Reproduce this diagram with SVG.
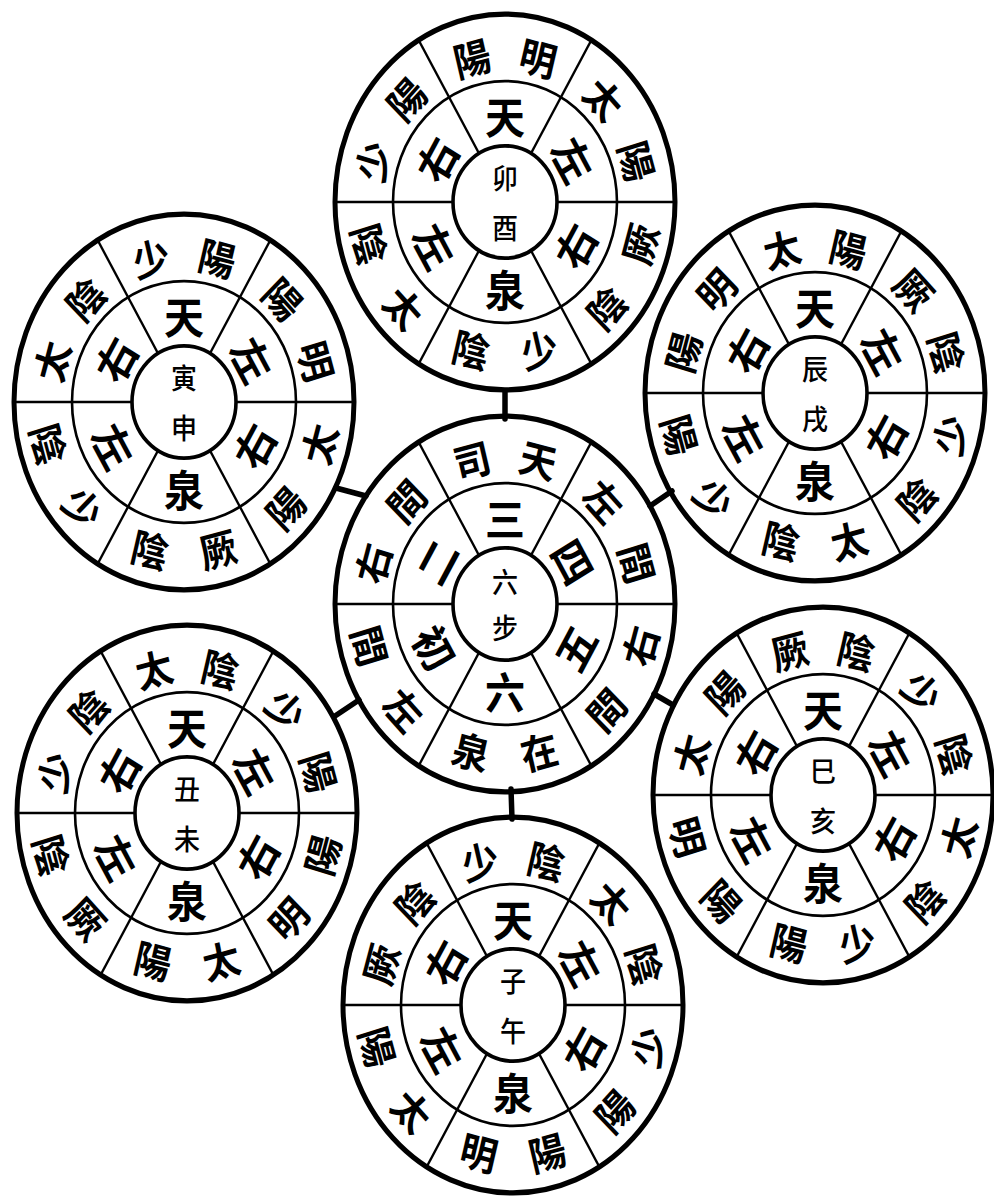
<svg xmlns="http://www.w3.org/2000/svg" xmlns:xlink="http://www.w3.org/1999/xlink" width="994" height="1199" viewBox="0 0 994 1199">
<style>
.o{fill:none;stroke:#000;stroke-width:5}
.m{fill:none;stroke:#000;stroke-width:2.6}
.i{fill:none;stroke:#000;stroke-width:3.6}
.d{stroke:#000;stroke-width:2.3}
.c{stroke:#000;stroke-width:5.5;stroke-linecap:round}
text{font-family:"Noto Sans CJK TC","Noto Sans CJK SC",sans-serif;text-anchor:middle;dominant-baseline:central;fill:#000}
.t{font-size:37px;font-weight:700}
.tm{font-size:40px;font-weight:700}
.ti{font-size:26px;font-weight:500}
</style>
<defs>
<g id="frame">
<ellipse class="o" cx="0" cy="0" rx="170" ry="174"/>
<circle class="m" cx="0" cy="0" r="112"/>
<circle class="i" cx="0" cy="0" r="52"/>
<line class="d" x1="26" y1="-45" x2="87" y2="-151"/>
<line class="d" x1="26" y1="45" x2="87" y2="151"/>
<line class="d" x1="-26" y1="45" x2="-87" y2="151"/>
<line class="d" x1="-26" y1="-45" x2="-87" y2="-151"/>
<line class="d" x1="52" y1="0" x2="171" y2="0"/>
<line class="d" x1="-52" y1="0" x2="-171" y2="0"/>
</g>
</defs>
<rect width="994" height="1199" fill="#fff"/>

<g id="connectors">
<line class="c" x1="505" y1="392" x2="505" y2="419"/>
<line class="c" x1="511" y1="789" x2="512" y2="819"/>
<line class="c" x1="336" y1="488" x2="366" y2="496"/>
<line class="c" x1="650" y1="506" x2="672" y2="491"/>
<line class="c" x1="335" y1="716" x2="359" y2="700"/>
<line class="c" x1="654" y1="694" x2="673" y2="705"/>
</g>

<g id="wheel-center" transform="translate(505,604) scale(1,1.08)">
<use xlink:href="#frame"/>
<text class="t" transform="rotate(-14) translate(0,-139)">司</text>
<text class="t" transform="rotate(14) translate(0,-139)">天</text>
<text class="t" transform="rotate(46) translate(0,-139)">左</text>
<text class="t" transform="rotate(74) translate(0,-139)">間</text>
<text class="t" transform="rotate(-74) translate(0,139)">右</text>
<text class="t" transform="rotate(-46) translate(0,139)">間</text>
<text class="t" transform="rotate(-14) translate(0,139)">在</text>
<text class="t" transform="rotate(14) translate(0,139)">泉</text>
<text class="t" transform="rotate(46) translate(0,139)">左</text>
<text class="t" transform="rotate(74) translate(0,139)">間</text>
<text class="t" transform="rotate(-74) translate(0,-139)">右</text>
<text class="t" transform="rotate(-46) translate(0,-139)">間</text>
<text class="tm" transform="translate(0,-80)">三</text>
<text class="tm" transform="rotate(60) translate(0,-80)">四</text>
<text class="tm" transform="rotate(-60) translate(0,80)">五</text>
<text class="tm" transform="translate(0,80)">六</text>
<text class="tm" transform="rotate(60) translate(0,80)">初</text>
<text class="tm" transform="rotate(-60) translate(0,-80)">二</text>
<text class="ti" x="0" y="-21">六</text>
<text class="ti" x="0" y="21">步</text>
</g>

<g id="wheel-maoyou" transform="translate(505,202) scale(1,1.08)">
<use xlink:href="#frame"/>
<text class="t" transform="rotate(-14) translate(0,-139)">陽</text>
<text class="t" transform="rotate(14) translate(0,-139)">明</text>
<text class="t" transform="rotate(46) translate(0,-139)">太</text>
<text class="t" transform="rotate(74) translate(0,-139)">陽</text>
<text class="t" transform="rotate(-74) translate(0,139)">厥</text>
<text class="t" transform="rotate(-46) translate(0,139)">陰</text>
<text class="t" transform="rotate(-14) translate(0,139)">少</text>
<text class="t" transform="rotate(14) translate(0,139)">陰</text>
<text class="t" transform="rotate(46) translate(0,139)">太</text>
<text class="t" transform="rotate(74) translate(0,139)">陰</text>
<text class="t" transform="rotate(-74) translate(0,-139)">少</text>
<text class="t" transform="rotate(-46) translate(0,-139)">陽</text>
<text class="tm" transform="translate(0,-80)">天</text>
<text class="tm" transform="rotate(60) translate(0,-80)">左</text>
<text class="tm" transform="rotate(-60) translate(0,80)">右</text>
<text class="tm" transform="translate(0,80)">泉</text>
<text class="tm" transform="rotate(60) translate(0,80)">左</text>
<text class="tm" transform="rotate(-60) translate(0,-80)">右</text>
<text class="ti" x="0" y="-23">卯</text>
<text class="ti" x="0" y="23">酉</text>
</g>

<g id="wheel-yinshen" transform="translate(184,402) scale(1,1.08)">
<use xlink:href="#frame"/>
<text class="t" transform="rotate(-14) translate(0,-139)">少</text>
<text class="t" transform="rotate(14) translate(0,-139)">陽</text>
<text class="t" transform="rotate(46) translate(0,-139)">陽</text>
<text class="t" transform="rotate(74) translate(0,-139)">明</text>
<text class="t" transform="rotate(-74) translate(0,139)">太</text>
<text class="t" transform="rotate(-46) translate(0,139)">陽</text>
<text class="t" transform="rotate(-14) translate(0,139)">厥</text>
<text class="t" transform="rotate(14) translate(0,139)">陰</text>
<text class="t" transform="rotate(46) translate(0,139)">少</text>
<text class="t" transform="rotate(74) translate(0,139)">陰</text>
<text class="t" transform="rotate(-74) translate(0,-139)">太</text>
<text class="t" transform="rotate(-46) translate(0,-139)">陰</text>
<text class="tm" transform="translate(0,-80)">天</text>
<text class="tm" transform="rotate(60) translate(0,-80)">左</text>
<text class="tm" transform="rotate(-60) translate(0,80)">右</text>
<text class="tm" transform="translate(0,80)">泉</text>
<text class="tm" transform="rotate(60) translate(0,80)">左</text>
<text class="tm" transform="rotate(-60) translate(0,-80)">右</text>
<text class="ti" x="0" y="-23">寅</text>
<text class="ti" x="0" y="23">申</text>
</g>

<g id="wheel-chenxu" transform="translate(815,393) scale(1,1.08)">
<use xlink:href="#frame"/>
<text class="t" transform="rotate(-14) translate(0,-139)">太</text>
<text class="t" transform="rotate(14) translate(0,-139)">陽</text>
<text class="t" transform="rotate(46) translate(0,-139)">厥</text>
<text class="t" transform="rotate(74) translate(0,-139)">陰</text>
<text class="t" transform="rotate(-74) translate(0,139)">少</text>
<text class="t" transform="rotate(-46) translate(0,139)">陰</text>
<text class="t" transform="rotate(-14) translate(0,139)">太</text>
<text class="t" transform="rotate(14) translate(0,139)">陰</text>
<text class="t" transform="rotate(46) translate(0,139)">少</text>
<text class="t" transform="rotate(74) translate(0,139)">陽</text>
<text class="t" transform="rotate(-74) translate(0,-139)">陽</text>
<text class="t" transform="rotate(-46) translate(0,-139)">明</text>
<text class="tm" transform="translate(0,-80)">天</text>
<text class="tm" transform="rotate(60) translate(0,-80)">左</text>
<text class="tm" transform="rotate(-60) translate(0,80)">右</text>
<text class="tm" transform="translate(0,80)">泉</text>
<text class="tm" transform="rotate(60) translate(0,80)">左</text>
<text class="tm" transform="rotate(-60) translate(0,-80)">右</text>
<text class="ti" x="0" y="-23">辰</text>
<text class="ti" x="0" y="23">戌</text>
</g>

<g id="wheel-chouwei" transform="translate(187,813) scale(1,1.08)">
<use xlink:href="#frame"/>
<text class="t" transform="rotate(-14) translate(0,-139)">太</text>
<text class="t" transform="rotate(14) translate(0,-139)">陰</text>
<text class="t" transform="rotate(46) translate(0,-139)">少</text>
<text class="t" transform="rotate(74) translate(0,-139)">陽</text>
<text class="t" transform="rotate(-74) translate(0,139)">陽</text>
<text class="t" transform="rotate(-46) translate(0,139)">明</text>
<text class="t" transform="rotate(-14) translate(0,139)">太</text>
<text class="t" transform="rotate(14) translate(0,139)">陽</text>
<text class="t" transform="rotate(46) translate(0,139)">厥</text>
<text class="t" transform="rotate(74) translate(0,139)">陰</text>
<text class="t" transform="rotate(-74) translate(0,-139)">少</text>
<text class="t" transform="rotate(-46) translate(0,-139)">陰</text>
<text class="tm" transform="translate(0,-80)">天</text>
<text class="tm" transform="rotate(60) translate(0,-80)">左</text>
<text class="tm" transform="rotate(-60) translate(0,80)">右</text>
<text class="tm" transform="translate(0,80)">泉</text>
<text class="tm" transform="rotate(60) translate(0,80)">左</text>
<text class="tm" transform="rotate(-60) translate(0,-80)">右</text>
<text class="ti" x="0" y="-23">丑</text>
<text class="ti" x="0" y="23">未</text>
</g>

<g id="wheel-sihai" transform="translate(823,795) scale(1,1.08)">
<use xlink:href="#frame"/>
<text class="t" transform="rotate(-14) translate(0,-139)">厥</text>
<text class="t" transform="rotate(14) translate(0,-139)">陰</text>
<text class="t" transform="rotate(46) translate(0,-139)">少</text>
<text class="t" transform="rotate(74) translate(0,-139)">陰</text>
<text class="t" transform="rotate(-74) translate(0,139)">太</text>
<text class="t" transform="rotate(-46) translate(0,139)">陰</text>
<text class="t" transform="rotate(-14) translate(0,139)">少</text>
<text class="t" transform="rotate(14) translate(0,139)">陽</text>
<text class="t" transform="rotate(46) translate(0,139)">陽</text>
<text class="t" transform="rotate(74) translate(0,139)">明</text>
<text class="t" transform="rotate(-74) translate(0,-139)">太</text>
<text class="t" transform="rotate(-46) translate(0,-139)">陽</text>
<text class="tm" transform="translate(0,-80)">天</text>
<text class="tm" transform="rotate(60) translate(0,-80)">左</text>
<text class="tm" transform="rotate(-60) translate(0,80)">右</text>
<text class="tm" transform="translate(0,80)">泉</text>
<text class="tm" transform="rotate(60) translate(0,80)">左</text>
<text class="tm" transform="rotate(-60) translate(0,-80)">右</text>
<text class="ti" x="0" y="-23">巳</text>
<text class="ti" x="0" y="23">亥</text>
</g>

<g id="wheel-ziwu" transform="translate(513,1005) scale(1,1.08)">
<use xlink:href="#frame"/>
<text class="t" transform="rotate(-14) translate(0,-139)">少</text>
<text class="t" transform="rotate(14) translate(0,-139)">陰</text>
<text class="t" transform="rotate(46) translate(0,-139)">太</text>
<text class="t" transform="rotate(74) translate(0,-139)">陰</text>
<text class="t" transform="rotate(-74) translate(0,139)">少</text>
<text class="t" transform="rotate(-46) translate(0,139)">陽</text>
<text class="t" transform="rotate(-14) translate(0,139)">陽</text>
<text class="t" transform="rotate(14) translate(0,139)">明</text>
<text class="t" transform="rotate(46) translate(0,139)">太</text>
<text class="t" transform="rotate(74) translate(0,139)">陽</text>
<text class="t" transform="rotate(-74) translate(0,-139)">厥</text>
<text class="t" transform="rotate(-46) translate(0,-139)">陰</text>
<text class="tm" transform="translate(0,-80)">天</text>
<text class="tm" transform="rotate(60) translate(0,-80)">左</text>
<text class="tm" transform="rotate(-60) translate(0,80)">右</text>
<text class="tm" transform="translate(0,80)">泉</text>
<text class="tm" transform="rotate(60) translate(0,80)">左</text>
<text class="tm" transform="rotate(-60) translate(0,-80)">右</text>
<text class="ti" x="0" y="-23">子</text>
<text class="ti" x="0" y="23">午</text>
</g>
</svg>
